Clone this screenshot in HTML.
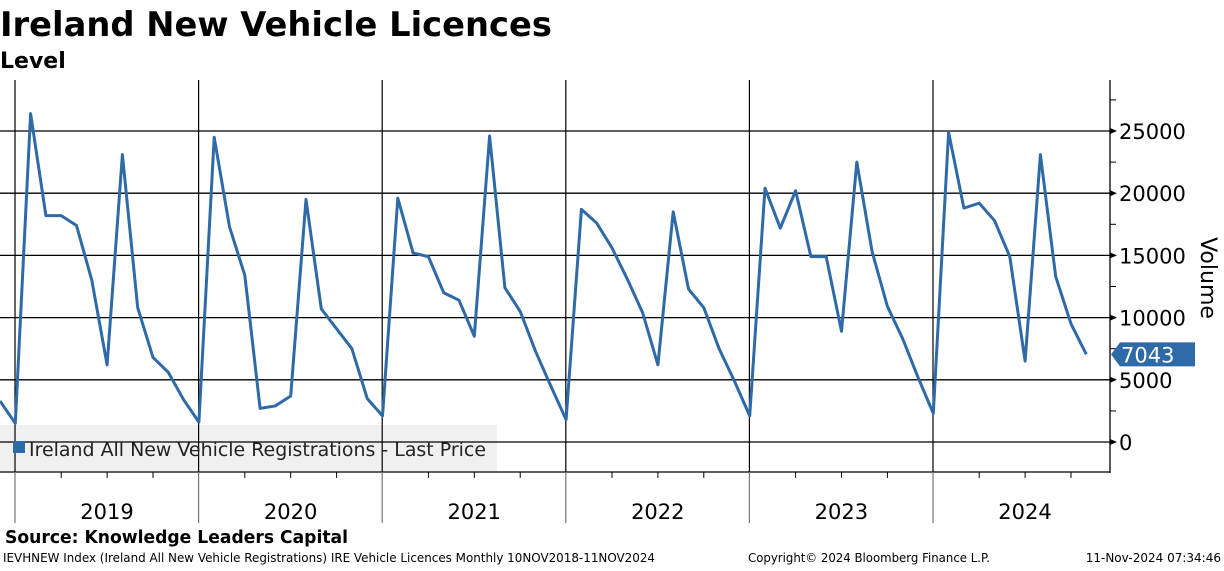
<!DOCTYPE html>
<html><head><meta charset="utf-8"><style>
body{margin:0;background:#fff;width:1224px;height:566px;overflow:hidden;font-family:"Liberation Sans","DejaVu Sans",sans-serif}
</style></head><body>
<svg width="1224" height="566" xmlns="http://www.w3.org/2000/svg">
<text x="0" y="36" font-size="34" font-weight="bold" font-family="DejaVu Sans, sans-serif" textLength="552" lengthAdjust="spacingAndGlyphs">Ireland New Vehicle Licences</text>
<text x="0" y="68" font-size="22" font-weight="bold" font-family="DejaVu Sans, sans-serif">Level</text>
<rect x="0" y="425" width="497" height="46" fill="#f0f0f0"/>
<g id="grid"></g>
<rect x="13" y="441" width="12" height="12" fill="#2e6aa8"/>
<text x="29" y="456" font-size="19" font-family="DejaVu Sans, sans-serif" fill="#222" textLength="457" lengthAdjust="spacingAndGlyphs">Ireland All New Vehicle Registrations - Last Price</text>
<g id="marks"></g>
<text transform="translate(1201,278) rotate(90)" text-anchor="middle" font-size="22" font-family="DejaVu Sans, sans-serif">Volume</text>
<text x="5" y="543" font-size="18" font-weight="bold" font-family="DejaVu Sans, sans-serif" textLength="343" lengthAdjust="spacingAndGlyphs">Source: Knowledge Leaders Capital</text>
<text x="3" y="562" font-size="12" font-family="DejaVu Sans, sans-serif" textLength="652" lengthAdjust="spacingAndGlyphs">IEVHNEW Index (Ireland All New Vehicle Registrations) IRE Vehicle Licences  Monthly 10NOV2018-11NOV2024</text>
<text x="748" y="562" font-size="12" font-family="DejaVu Sans, sans-serif" textLength="242" lengthAdjust="spacingAndGlyphs">Copyright© 2024 Bloomberg Finance L.P.</text>
<text x="1221" y="562" text-anchor="end" font-size="12" font-family="DejaVu Sans, sans-serif">11-Nov-2024 07:34:46</text>
</svg>
<script>
const years=["2019","2020","2021","2022","2023","2024"];
const yTicks=[0,5000,10000,15000,20000,25000];
const values=[3300,1500,
26400,18200,18200,17400,13000,6200,23100,10800,6800,5600,3400,1600,
24500,17300,13400,2700,2900,3700,19500,10700,9100,7500,3500,2100,
19600,15200,14900,12000,11400,8500,24600,12400,10500,7300,4500,1800,
18700,17600,15600,13100,10400,6200,18500,12300,10800,7500,4900,2100,
20400,17200,20200,14900,14900,8900,22500,15300,10900,8300,5200,2300,
24900,18800,19200,17800,14900,6500,23100,13300,9500,7043];
const lastLabel="7043";
const NS="http://www.w3.org/2000/svg";
const X=i=>i*15.3;
const Y=v=>442-v*(311/25000);
function mk(t,a,p){const e=document.createElementNS(NS,t);for(const k in a)e.setAttribute(k,a[k]);p.appendChild(e);return e;}
const g=document.getElementById('grid'),m=document.getElementById('marks');
yTicks.forEach(v=>{
 const l=mk('line',{x1:0,x2:1110,y1:Y(v),y2:Y(v),stroke:'#000','stroke-width':1.3},g);
 
 
 mk('path',{d:`M1110 ${Y(v)-3}L1117 ${Y(v)}L1110 ${Y(v)+3}Z`,fill:'#000'},g);
 const t=mk('text',{x:1119,y:Y(v)+8,'font-size':21,'font-family':'DejaVu Sans, sans-serif'},g);t.textContent=v;
 
 
});
for(let v=2500;v<=27500;v+=5000){mk('line',{x1:1110,x2:1116,y1:Y(v),y2:Y(v),stroke:'#000'},g);}
mk('line',{x1:1110,x2:1110,y1:80,y2:473,stroke:'#000','stroke-width':1.3},g);
mk('line',{x1:0,x2:1110,y1:472,y2:472,stroke:'#000','stroke-width':1.3},g);
for(let i=2;i<=73;i+=3){if((i-2)%12)mk('line',{x1:X(i)-15.3,x2:X(i)-15.3,y1:472,y2:478,stroke:'#000'},g);}
years.forEach((y,k)=>{
 const x=X(1+12*k)-0.3;
 mk('line',{x1:x,x2:x,y1:80,y2:472,stroke:'#000','stroke-width':1.2},g);
 mk('line',{x1:x,x2:x,y1:472,y2:523,stroke:'#777','stroke-width':1.2},g);
 const t=mk('text',{x:x+92,y:519,'text-anchor':'middle','font-size':21,'font-family':'DejaVu Sans, sans-serif'},g);t.textContent=y;
 
 
});
const p=mk('polyline',{points:values.map((v,i)=>X(i)+','+Y(v)).join(' '),fill:'none',stroke:'#2e6aa8','stroke-width':3,'stroke-linejoin':'round'},m);


const lv=values[values.length-1],ly=Y(lv);
const b=mk('path',{d:`M1111 ${ly}L1120 ${ly-12}L1195 ${ly-12}L1195 ${ly+12}L1120 ${ly+12}Z`,fill:'#2e6aa8'},m);


const bt=mk('text',{x:1121,y:ly+8,fill:'#fff','font-size':21,'font-family':'DejaVu Sans, sans-serif'},m);bt.textContent=lastLabel;


</script>
</body></html>
